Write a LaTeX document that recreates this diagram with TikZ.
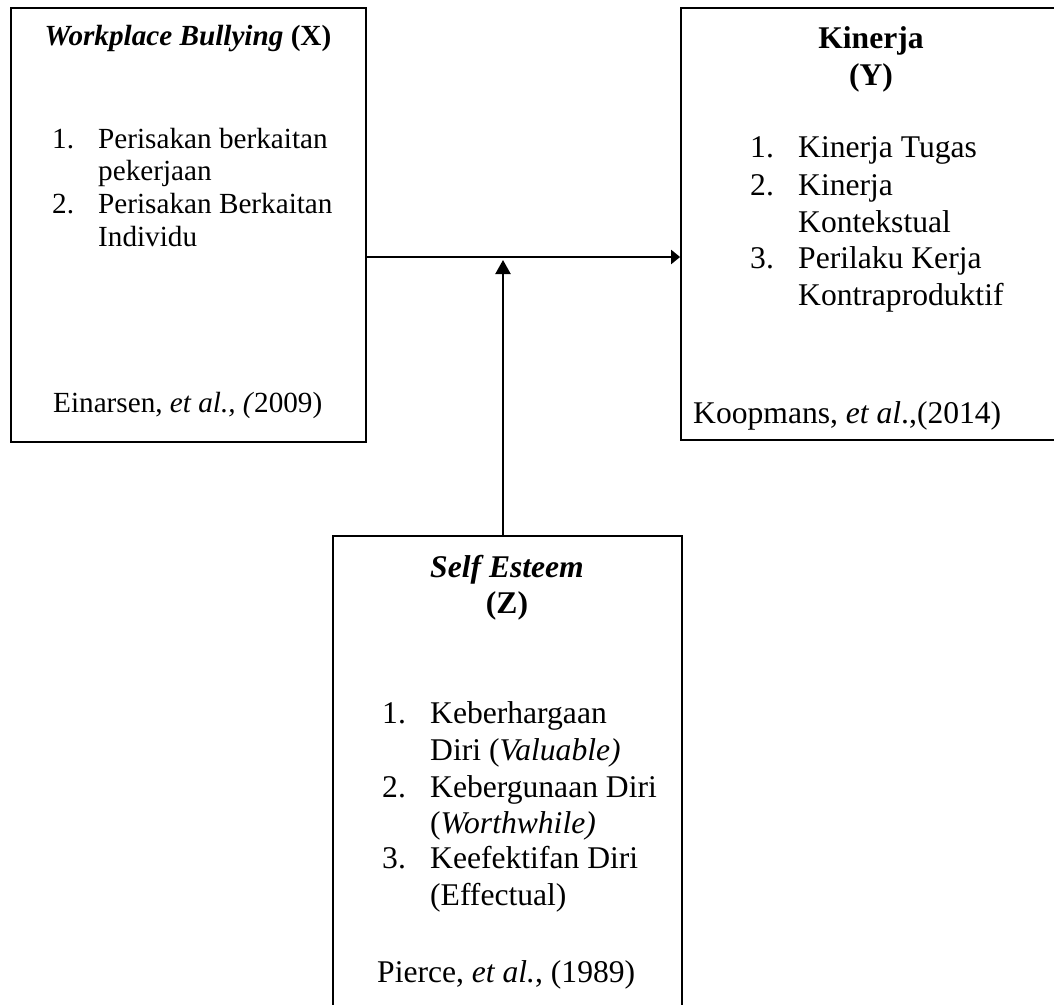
\documentclass[tikz,border=0pt]{standalone}
\usepackage{fontspec}
\setmainfont{Liberation Serif}
\usetikzlibrary{arrows.meta,calc}
\tikzset{
  boxnode/.style={draw=black, line width=1.8pt, fill=white, inner sep=0pt, minimum width=#1},
  txt/.style={anchor=base west, inner sep=0pt},
  ctxt/.style={anchor=base, inner sep=0pt},
  fx/.style={font=\fontsize{29.2}{34}\selectfont},
  fy/.style={font=\fontsize{31.6}{37}\selectfont},
  conn/.style={line width=2.2pt, draw=black}
}
\begin{document}
\begin{tikzpicture}[x=1pt,y=1pt]
\useasboundingbox (0,0) rectangle (1054,-1004);
% boxes
\node[boxnode=355pt, minimum height=434pt] (X) at (188.5,-225) {};
\node[boxnode=379pt, minimum height=432pt] (Y) at (870.5,-224) {};
\node[boxnode=349pt, minimum height=474pt] (Z) at (507.5,-773) {};
% connectors
\draw[conn, -{Triangle[length=9pt,width=14pt]}] ([yshift=-32pt]X.east) coordinate (hs) -- (hs -| Y.west);
\coordinate (vs) at ([xshift=-4.5pt]Z.north);
\draw[conn, -{Triangle[length=14pt,width=15pt]}] (vs) -- ([yshift=-3pt]vs |- hs);
% box X text
\node[ctxt, fx] (xt) at (188,-45) {\textbf{\textit{Workplace Bullying}} \textbf{(X)}};
\node[txt, fx] (x1n) at (52,-148) {1.};
\node[txt, fx] (x1a) at (98,-148) {Perisakan berkaitan};
\node[txt, fx] (x1b) at (98,-180) {pekerjaan};
\node[txt, fx] (x2n) at (52,-213) {2.};
\node[txt, fx] (x2a) at (98,-213) {Perisakan Berkaitan};
\node[txt, fx] (x2b) at (98,-246) {Individu};
\node[txt, fx] (xs) at (53,-412) {Einarsen, \textit{et al., (}2009)};
% box Y text
\node[ctxt, fy] (yt1) at (871,-48) {\textbf{Kinerja}};
\node[ctxt, fy] (yt2) at (871,-85) {\textbf{(Y)}};
\node[txt, fy] (y1n) at (750,-157) {1.};
\node[txt, fy] (y1a) at (798,-157) {Kinerja Tugas};
\node[txt, fy] (y2n) at (750,-195) {2.};
\node[txt, fy] (y2a) at (798,-195) {Kinerja};
\node[txt, fy] (y2b) at (798,-232) {Kontekstual};
\node[txt, fy] (y3n) at (750,-268) {3.};
\node[txt, fy] (y3a) at (798,-268) {Perilaku Kerja};
\node[txt, fy] (y3b) at (798,-305) {Kontraproduktif};
\node[txt, fy] (ys) at (693,-423) {Koopmans, \textit{et al}.,(2014)};
% box Z text
\node[ctxt, fy] (zt1) at (507,-577) {\textbf{\textit{Self Esteem}}};
\node[ctxt, fy] (zt2) at (507,-613) {\textbf{(Z)}};
\node[txt, fy] (z1n) at (382,-723) {1.};
\node[txt, fy] (z1a) at (430,-723) {Keberhargaan};
\node[txt, fy] (z1b) at (430,-760) {Diri (\textit{Valuable)}};
\node[txt, fy] (z2n) at (382,-797) {2.};
\node[txt, fy] (z2a) at (430,-797) {Kebergunaan Diri};
\node[txt, fy] (z2b) at (430,-833) {(\textit{Worthwhile)}};
\node[txt, fy] (z3n) at (382,-868) {3.};
\node[txt, fy] (z3a) at (430,-868) {Keefektifan Diri};
\node[txt, fy] (z3b) at (430,-905) {(Effectual)};
\node[txt, fy] (zs) at (377,-982) {Pierce, \textit{et al.}, (1989)};
\end{tikzpicture}
\end{document}
